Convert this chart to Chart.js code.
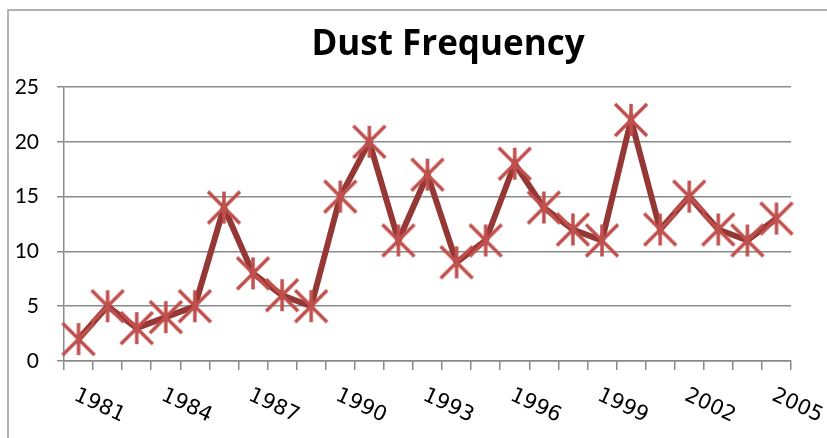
<!DOCTYPE html>
<html>
<head>
<meta charset="utf-8">
<script src="https://cdn.jsdelivr.net/npm/chart.js@4"></script>
<style>
  html, body { margin: 0; padding: 0; background: #fff; }
  #wrap { position: relative; width: 827px; height: 438px; }
</style>
</head>
<body>
<div id="wrap"><canvas id="chart" width="827" height="438"></canvas></div>
<script>
// Données : fréquence des tempêtes de poussière
const years = ['1981','1982','1983','1984','1985','1986','1987','1988','1989','1990',
  '1991','1992','1993','1994','1995','1996','1997','1998','1999','2000',
  '2001','2002','2003','2004','2005'];
const dustValues = [2, 5, 3, 4, 5, 14, 8, 6, 5, 15, 20, 11, 17, 9, 11, 18, 14, 12, 11, 22, 12, 15, 12, 11, 13];
const xTickLabels = ['1981','1984','1987','1990','1993','1996','1999','2002','2005'];
const yTicks = [0, 5, 10, 15, 20, 25];
const chartTitle = 'Dust Frequency';

const COLORS = {
  line: '#953735',
  marker: '#C0504D',
  grid: '#8a8a8a',
  frame: '#9a9a9a',
};

const FONT = "Lato, 'Open Sans', sans-serif";

// Marqueur "étoile" façon Excel : un X et un trait vertical
function makeStarMarker(size) {
  const c = document.createElement('canvas');
  c.width = size; c.height = size;
  const g = c.getContext('2d');
  const r = size / 2 - 2;
  const m = size / 2;
  g.strokeStyle = COLORS.marker;
  g.lineWidth = 3.5;
  g.beginPath();
  g.moveTo(m - r, m - r); g.lineTo(m + r, m + r);
  g.moveTo(m + r, m - r); g.lineTo(m - r, m + r);
  g.moveTo(m, m - r); g.lineTo(m, m + r);
  g.stroke();
  return c;
}

// Cadre extérieur + titre
const framePlugin = {
  id: 'frame',
  beforeDraw(chart) {
    const ctx = chart.ctx;
    ctx.save();
    ctx.strokeStyle = COLORS.frame;
    ctx.lineWidth = 1.5;
    ctx.strokeRect(8, 10, 840, 450);
    ctx.fillStyle = '#000';
    ctx.font = "bold 35px 'Open Sans', sans-serif";
    ctx.textAlign = 'center';
    ctx.textBaseline = 'alphabetic';
    ctx.fillText(chartTitle, 448, 55);
    ctx.restore();
  },
};

// Étiquettes de l'axe X inclinées vers le bas
const rotatedLabels = {
  id: 'rotatedLabels',
  afterDraw(chart) {
    const ctx = chart.ctx;
    const x = chart.scales.x;
    const bottom = chart.chartArea.bottom;
    ctx.save();
    ctx.font = "21px 'DejaVu Sans', sans-serif";
    ctx.fillStyle = '#000';
    ctx.textAlign = 'left';
    ctx.textBaseline = 'top';
    xTickLabels.forEach(lbl => {
      const px = x.getPixelForValue(years.indexOf(lbl));
      ctx.save();
      ctx.translate(px + 1, bottom + 24);
      ctx.rotate(25 * Math.PI / 180);
      ctx.fillText(lbl, 0, 0);
      ctx.restore();
    });
    ctx.restore();
  },
};

new Chart(document.getElementById('chart').getContext('2d'), {
  type: 'line',
  data: {
    labels: years,
    datasets: [{
      data: dustValues,
      borderColor: COLORS.line,
      borderWidth: 6,
      tension: 0,
      pointStyle: makeStarMarker(36),
      pointRadius: 16,
      pointHoverRadius: 16,
    }],
  },
  options: {
    responsive: false,
    animation: false,
    layout: { padding: { left: 8, right: 36, top: 87, bottom: 0 } },
    plugins: {
      legend: { display: false },
      tooltip: { enabled: false },
      title: { display: false },
    },
    scales: {
      x: {
        offset: true,
        grid: {
          offset: true,
          drawOnChartArea: false,
          drawTicks: true,
          tickLength: 9,
          color: COLORS.grid,
          lineWidth: 1.5,
        },
        border: { display: true, color: COLORS.grid, width: 1.5 },
        ticks: { display: false },
        afterFit(scale) { scale.height = 77; },
      },
      y: {
        min: 0,
        max: 25,
        afterBuildTicks(scale) { scale.ticks = yTicks.map(v => ({ value: v })); },
        grid: {
          color: COLORS.grid,
          lineWidth: 1.5,
          tickLength: 7,
        },
        border: { display: true, color: COLORS.grid, width: 1.5 },
        ticks: {
          color: '#000',
          padding: 18,
          font: { family: FONT, size: 21 },
        },
        afterFit(scale) { scale.width = 56; },
      },
    },
  },
  plugins: [framePlugin, rotatedLabels],
});
</script>
</body>
</html>
